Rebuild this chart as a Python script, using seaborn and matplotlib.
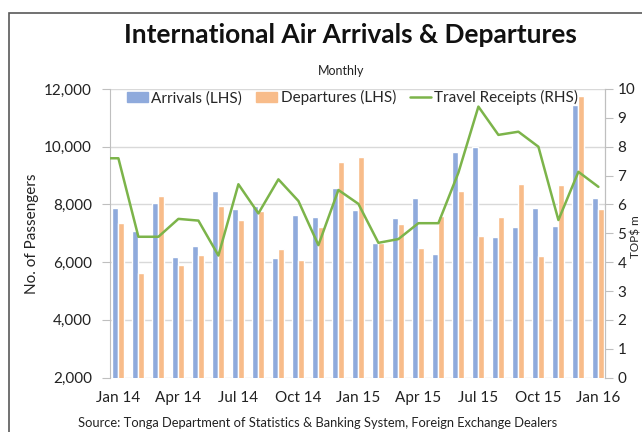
import numpy as np
import pandas as pd
import matplotlib.pyplot as plt
import matplotlib.patches as mpatches
from matplotlib.lines import Line2D
import seaborn as sns

# ===============================
# Data
# ===============================
months = ["Jan 14", "Feb 14", "Mar 14", "Apr 14", "May 14", "Jun 14", "Jul 14",
          "Aug 14", "Sep 14", "Oct 14", "Nov 14", "Dec 14", "Jan 15", "Feb 15",
          "Mar 15", "Apr 15", "May 15", "Jun 15", "Jul 15", "Aug 15", "Sep 15",
          "Oct 15", "Nov 15", "Dec 15", "Jan 16"]
arrivals = [7860, 7070, 8050, 6180, 6550, 8460, 7840, 7960, 6160, 7650, 7550, 8570,
            7810, 6680, 7540, 8220, 6300, 9830, 10000, 6870, 7220, 7870, 7250, 11450, 8230]
departures = [7340, 5630, 8300, 5890, 6260, 7940, 7460, 7770, 6460, 6060, 7210, 9460,
              9630, 6650, 7310, 6490, 7590, 8470, 6910, 7580, 8710, 6210, 8660, 11760, 7840]
receipts = [7.6, 4.88, 4.88, 5.5, 5.44, 4.23, 6.7, 5.69, 6.87, 6.12, 4.59, 6.5,
            6.02, 4.67, 4.8, 5.35, 5.35, 7.1, 9.39, 8.41, 8.52, 8.0, 5.46, 7.13, 6.61]
receipts_dec13 = 7.6  # previous month, line enters from the left edge
tick_labels = ["Jan 14", "Apr 14", "Jul 14", "Oct 14", "Jan 15", "Apr 15",
               "Jul 15", "Oct 15", "Jan 16"]

blue = "#8FAADC"
orange = "#F8BC8A"
green = "#7CB44A"

df = pd.DataFrame({"month": months * 2,
                   "series": ["Arrivals (LHS)"] * len(months) + ["Departures (LHS)"] * len(months),
                   "value": arrivals + departures})
line_df = pd.DataFrame({"pos": np.arange(-1, len(months)),
                        "receipts": [receipts_dec13] + receipts})

# ===============================
# Plot
# ===============================
sns.set_style("white")
plt.rcParams["font.family"] = ["Lato", "DejaVu Sans"]

fig = plt.figure(figsize=(6.42, 4.32), dpi=100)
ax = fig.add_axes([110 / 642, 1 - 377.6 / 432, 495 / 642, 288.6 / 432])

sns.barplot(data=df, x="month", y="value", hue="series", order=months,
            palette=[blue, orange], width=0.6, gap=0, saturation=1,
            ax=ax, legend=False, zorder=3)

ax.set_ylim(2000, 12000)
ax.set_yticks(range(2000, 12001, 2000))
ax.set_yticklabels([f"{v:,}" for v in range(2000, 12001, 2000)])
ax.set_xlim(-0.42, 24.33)
ax.set_xticks([months.index(m) for m in tick_labels])
ax.set_xticklabels(tick_labels)
ax.grid(axis="y", color="#D9D9D9", linewidth=1, zorder=0)
ax.set_axisbelow(True)
ax.tick_params(axis="x", length=0, labelsize=11, pad=10, colors="#222222")
ax.tick_params(axis="y", length=6, width=0.8, color="#BFBFBF", labelsize=11,
               colors="#222222", pad=7)
for s in ["top", "bottom"]:
    ax.spines[s].set_visible(False)
for s in ["left", "right"]:
    ax.spines[s].set_color("#BFBFBF")
ax.set_xlabel("")
ax.set_ylabel("No. of Passengers", fontsize=11, labelpad=4, color="#222222")

ax2 = ax.twinx()
sns.lineplot(data=line_df, x="pos", y="receipts", color=green, linewidth=1.8,
             ax=ax2, zorder=4)
ax2.set_ylim(0, 10)
ax2.set_yticks(range(0, 11))
ax2.set_xlim(-0.42, 24.33)
ax2.tick_params(axis="y", length=6, width=0.8, color="#BFBFBF", labelsize=11,
                colors="#222222", pad=3)
for s in ["top", "bottom", "left"]:
    ax2.spines[s].set_visible(False)
ax2.spines["right"].set_color("#BFBFBF")
ax2.set_ylabel("")

# legend
handles = [mpatches.Patch(color=blue, label="Arrivals (LHS)"),
           mpatches.Patch(color=orange, label="Departures (LHS)"),
           Line2D([0], [0], color=green, linewidth=1.8, label="Travel Receipts (RHS)")]
ax2.legend(handles=handles, loc="center", bbox_to_anchor=(0.49, 0.969), ncol=3,
           frameon=False, fontsize=11, handlelength=1.4, handletextpad=0.2,
           columnspacing=0.9, borderaxespad=0)

# titles and texts
fig.text(350 / 642, 1 - 35 / 432, "International Air Arrivals & Departures",
         ha="center", va="center", fontsize=19, fontweight="bold", color="#111111")
fig.text(341 / 642, 1 - 71 / 432, "Monthly", ha="center", va="center",
         fontsize=9, color="#222222")
fig.text(318 / 642, 1 - 423 / 432,
         "Source: Tonga Department of Statistics & Banking System, Foreign Exchange Dealers",
         ha="center", va="center", fontsize=9.3, color="#222222")
fig.text(636 / 642, 1 - 237 / 432, "TOP$ m", rotation=90, ha="center", va="center",
         fontsize=8.5, color="#222222")

# outer chart frame (cropped at right and bottom)
fig.patches.append(mpatches.Rectangle((9 / 642, -0.1), 1.2, 1.1 - 13 / 432,
                                      transform=fig.transFigure, fill=False,
                                      edgecolor="#595959", linewidth=1.2))

plt.savefig("out.png", dpi=100)
plt.close()
